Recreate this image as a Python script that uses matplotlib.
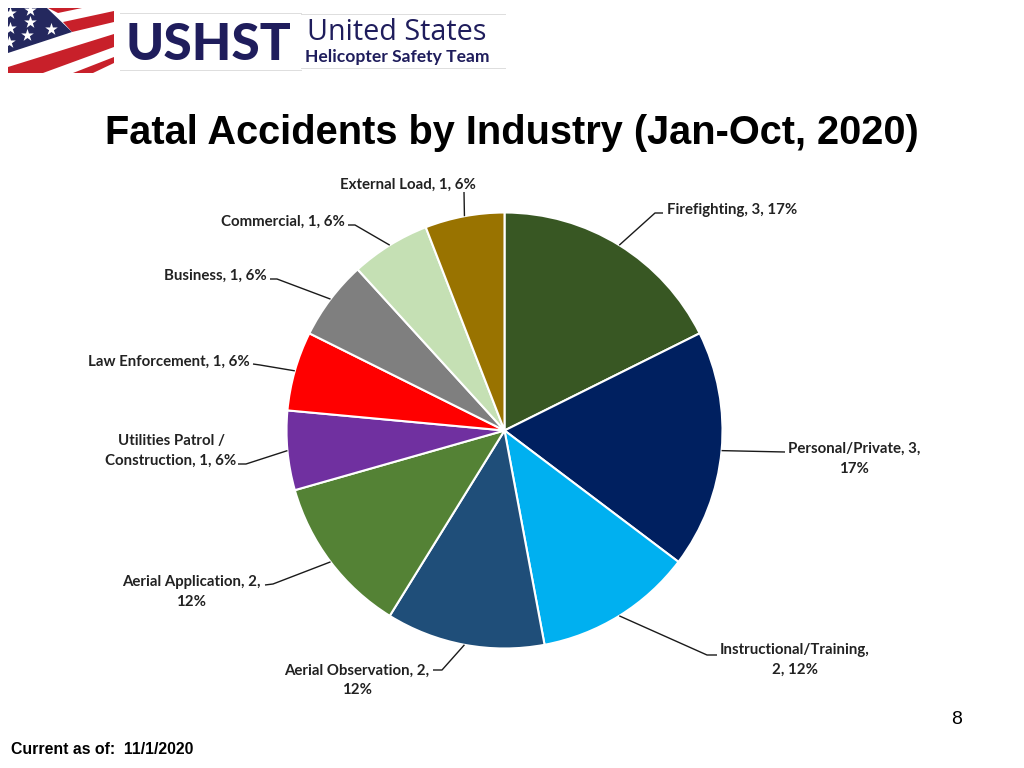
"""Fatal accidents by industry slide, USHST."""
import numpy as np
import matplotlib
matplotlib.use("Agg")
import matplotlib.pyplot as plt
from matplotlib.patches import Polygon

industries = ["Firefighting", "Personal/Private", "Instructional/Training", "Aerial Observation",
              "Aerial Application", "Utilities Patrol / Construction", "Law Enforcement",
              "Business", "Commercial", "External Load"]
accidents = [3, 3, 2, 2, 2, 1, 1, 1, 1, 1]
percents = [17, 17, 12, 12, 12, 6, 6, 6, 6, 6]
colors = ["#385723", "#002060", "#00B0F0", "#1F4E79", "#548235",
          "#7030A0", "#FF0000", "#7F7F7F", "#C5E0B4", "#997300"]
# wrapped the way the slide wraps them
label_texts = [
    f"{industries[0]}, {accidents[0]}, {percents[0]}%",
    f"{industries[1]}, {accidents[1]},\n{percents[1]}%",
    f"{industries[2]},\n{accidents[2]}, {percents[2]}%",
    f"{industries[3]}, {accidents[3]},\n{percents[3]}%",
    f"{industries[4]}, {accidents[4]},\n{percents[4]}%",
    f"Utilities Patrol /\nConstruction, {accidents[5]}, {percents[5]}%",
    f"{industries[6]}, {accidents[6]}, {percents[6]}%",
    f"{industries[7]}, {accidents[7]}, {percents[7]}%",
    f"{industries[8]}, {accidents[8]}, {percents[8]}%",
    f"{industries[9]}, {accidents[9]}, {percents[9]}%",
]

W, H = 1024, 768
CX, CY, R = 504.5, 430.5, 218
LABEL_FONT = ["Lato", "DejaVu Sans"]


def py(y):
    return H - y


# label layout in slide pixels: text x, text y, ha, leader points after the pie edge
layout = [
    (667, 210, "left", [(655, 213), (663, 213)]),
    (854, 459, "center", [(785, 452)]),
    (795, 660, "center", [(707, 655), (717, 655)]),
    (357, 680.5, "center", [(442, 670), (433, 670)]),
    (191, 592, "center", [(273, 584), (265, 585)]),
    (171, 451, "center", [(246, 464), (238, 464)]),
    (250, 362, "right", [(260, 365), (253, 364)]),
    (267, 276, "right", [(277, 279), (270, 279)]),
    (345, 222, "right", [(355, 225), (348, 225)]),
    (408, 185, "center", [(464, 192)]),
]

fig = plt.figure(figsize=(W / 100, H / 100), dpi=100)
ax = fig.add_axes([0, 0, 1, 1])

ax.pie(accidents, colors=colors, startangle=90, counterclock=False,
       center=(CX, py(CY)), radius=R, frame=True,
       wedgeprops={"edgecolor": "white", "linewidth": 1.5})
ax.set_xlim(0, W)
ax.set_ylim(0, H)
ax.set_aspect("auto")
ax.axis("off")

# leaders start on the pie edge at each wedge's mid angle
shares = np.array(accidents) / sum(accidents)
mids = (np.cumsum(shares) - shares / 2) * 2 * np.pi
for mid, txt, (tx, ty, ha, pts) in zip(mids, label_texts, layout):
    xs = [CX + R * np.sin(mid)] + [p[0] for p in pts]
    ys = [CY - R * np.cos(mid)] + [p[1] for p in pts]
    ax.plot(xs, [py(v) for v in ys], color="#1a1a1a", lw=1.0, solid_capstyle="butt")
    ax.text(tx, py(ty), txt, ha=ha, va="center", family=LABEL_FONT, fontweight="bold",
            fontsize=10.8, color="#222222", linespacing=1.5, multialignment="center")

ax.text(512, py(133), "Fatal Accidents by Industry (Jan-Oct, 2020)", ha="center", va="center",
        family="Liberation Sans", fontweight="bold", fontsize=28.6, color="black")
ax.text(957, py(719), "8", ha="center", va="center", family="Liberation Sans", fontsize=14)
ax.text(11, py(749), "Current as of:  11/1/2020", ha="left", va="center",
        family="Liberation Sans", fontweight="bold", fontsize=11.4)

# logo: flag
flag_red = [[(48, 8), (82, 8), (58, 13)],
            [(63, 22), (114, 11), (114, 22), (72, 32)],
            [(8, 67), (114, 34), (114, 47), (43, 73), (8, 73)],
            [(73, 73), (114, 57), (114, 63), (93, 73)]]
for poly in flag_red:
    ax.add_patch(Polygon([(x, py(y)) for x, y in poly], fc="#C8202A", ec="none"))
ax.add_patch(Polygon([(x, py(y)) for x, y in [(8, 8), (47, 8), (72, 32), (8, 53)]],
                     fc="#24285E", ec="none"))
star_x = [30, 51, 27, 30, 10, 10, 9]
star_y = [22, 29, 35, 10, 13, 28, 42]
ax.scatter(star_x, [py(v) for v in star_y], marker="*", s=90, color="white", lw=0)

# logo: wordmark
navy = "#1F1D5C"
ax.text(208.5, py(45.5), "USHST", ha="center", va="center", family="Lato", fontweight="black",
        fontsize=37, color=navy)
ax.text(397, py(32), "United States", ha="center", va="center", family="Open Sans",
        fontsize=20.7, color=navy)
ax.text(397, py(57), "Helicopter Safety Team", ha="center", va="center", family="Lato",
        fontweight="bold", fontsize=12.6, color=navy)
for x0, x1, y0 in [(120, 301, 13), (301, 505, 14), (120, 301, 70), (301, 505, 68)]:
    ax.plot([x0, x1], [py(y0), py(y0)], color="#dddddd", lw=0.7)

fig.savefig("out.png", dpi=100)
